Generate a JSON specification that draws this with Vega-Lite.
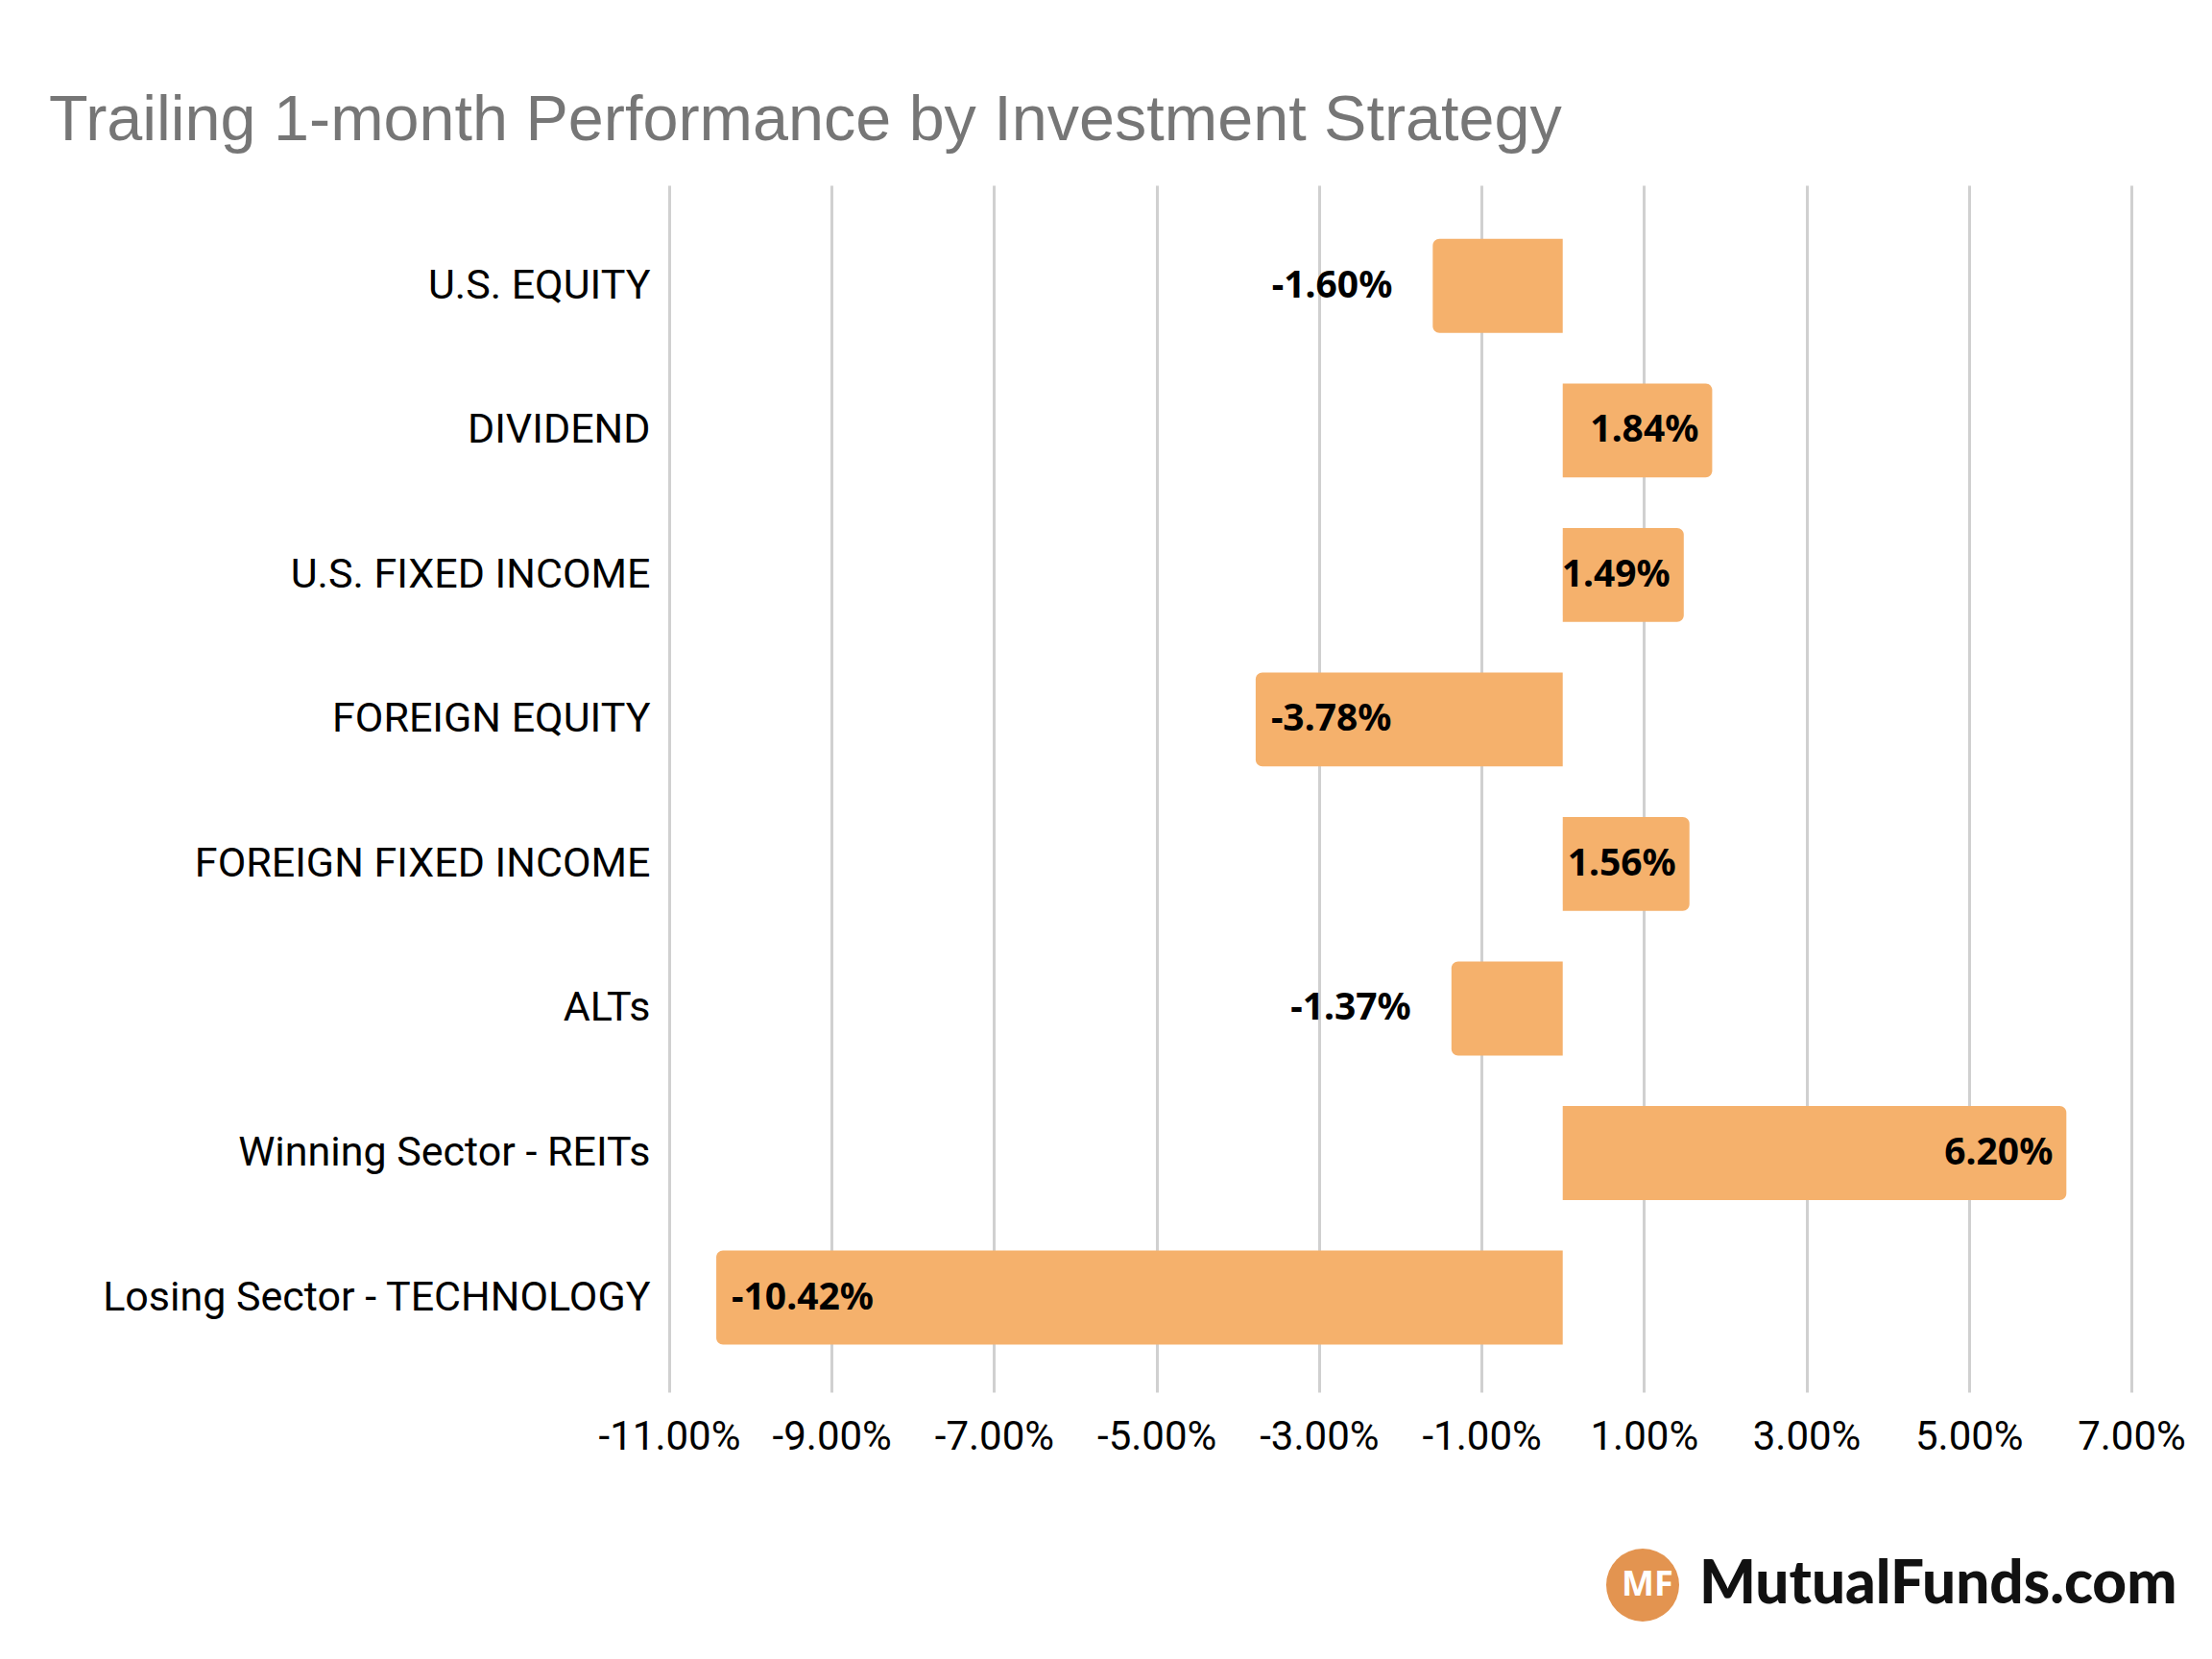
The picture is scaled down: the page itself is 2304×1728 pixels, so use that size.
{
  "$schema": "https://vega.github.io/schema/vega-lite/v6.json",
  "width": 1523,
  "height": 1257,
  "autosize": {"type": "none"},
  "padding": {"left": 697, "top": 193, "right": 84, "bottom": 278},
  "background": "white",
  "config": {
    "view": {"stroke": null},
    "locale": {"number": {"decimal": ".", "thousands": ",", "grouping": [3], "currency": ["$", ""], "minus": "-"}}
  },
  "title": {
    "text": "Trailing 1-month Performance by Investment Strategy",
    "anchor": "start",
    "frame": "group",
    "dx": -646,
    "offset": -19,
    "baseline": "alphabetic",
    "font": "Liberation Sans",
    "fontSize": 66.5,
    "fontWeight": "normal",
    "color": "#767676"
  },
  "data": {
    "values": [
      {"strategy": "U.S. EQUITY", "value": -0.016},
      {"strategy": "DIVIDEND", "value": 0.0184},
      {"strategy": "U.S. FIXED INCOME", "value": 0.0149},
      {"strategy": "FOREIGN EQUITY", "value": -0.0378},
      {"strategy": "FOREIGN FIXED INCOME", "value": 0.0156},
      {"strategy": "ALTs", "value": -0.0137},
      {"strategy": "Winning Sector - REITs", "value": 0.062},
      {"strategy": "Losing Sector - TECHNOLOGY", "value": -0.1042}
    ]
  },
  "encoding": {
    "y": {
      "field": "strategy",
      "type": "nominal",
      "sort": null,
      "scale": {
        "domain": ["U.S. EQUITY", "DIVIDEND", "U.S. FIXED INCOME", "FOREIGN EQUITY", "FOREIGN FIXED INCOME", "ALTs", "Winning Sector - REITs", "Losing Sector - TECHNOLOGY"],
        "paddingInner": 0.35,
        "paddingOuter": 0.35,
        "align": 0.53
      },
      "axis": {
        "title": null,
        "domain": false,
        "ticks": false,
        "grid": false,
        "labelFont": "Roboto",
        "labelFontSize": 43,
        "labelColor": "#000000",
        "labelPadding": 20,
        "labelLimit": 0
      }
    },
    "x": {
      "field": "value",
      "type": "quantitative",
      "scale": {"domain": [-0.11, 0.07], "nice": false, "zero": false},
      "axis": {
        "title": null,
        "values": [-0.11, -0.09, -0.07, -0.05, -0.03, -0.01, 0.01, 0.03, 0.05, 0.07],
        "format": ".2%",
        "grid": true,
        "gridColor": "#D0D0D0",
        "gridWidth": 3,
        "domain": false,
        "ticks": false,
        "labelFont": "Roboto",
        "labelFontSize": 42,
        "labelColor": "#000000",
        "labelPadding": 26,
        "labelFlush": false
      }
    }
  },
  "layer": [
    {
      "transform": [{"filter": "datum.value >= 0"}],
      "mark": {"type": "bar", "color": "#F5B16C", "cornerRadiusTopRight": 7, "cornerRadiusBottomRight": 7},
      "encoding": {"x2": {"datum": 0}}
    },
    {
      "transform": [{"filter": "datum.value < 0"}],
      "mark": {"type": "bar", "color": "#F5B16C", "cornerRadiusTopLeft": 7, "cornerRadiusBottomLeft": 7},
      "encoding": {"x2": {"datum": 0}}
    },
    {
      "mark": {"type": "rule", "strokeWidth": 0},
      "encoding": {
        "x": {"datum": 0},
        "stroke": {
          "datum": "MutualFunds.com",
          "scale": {"range": ["#E39450"]},
          "legend": {
            "orient": "none",
            "legendX": 992,
            "legendY": 1420,
            "padding": 0,
            "title": "MF",
            "titleOrient": "left",
            "titleColor": "#FFFFFF",
            "titleFont": "Noto Sans",
            "titleFontSize": 36,
            "titleFontWeight": "bold",
            "titlePadding": -70,
            "titleBaseline": "middle",
            "titleAnchor": "middle",
            "symbolType": "circle",
            "symbolSize": 5776,
            "symbolFillColor": "#E39450",
            "symbolStrokeWidth": 0,
            "symbolOpacity": 1,
            "labelFont": "Lato",
            "labelFontWeight": 900,
            "labelFontSize": 62,
            "labelColor": "#111111",
            "labelOffset": 21,
            "labelLimit": 0
          }
        }
      }
    },
    {
      "transform": [{"filter": "datum.value >= 0"}],
      "mark": {"type": "text", "align": "right", "baseline": "middle", "dx": -14, "font": "Noto Sans", "fontWeight": "bold", "fontSize": 39, "color": "#000000"},
      "encoding": {"text": {"field": "value", "type": "quantitative", "format": ".2%"}}
    },
    {
      "transform": [{"filter": "datum.value < -0.02"}],
      "mark": {"type": "text", "align": "left", "baseline": "middle", "dx": 16, "font": "Noto Sans", "fontWeight": "bold", "fontSize": 39, "color": "#000000"},
      "encoding": {"text": {"field": "value", "type": "quantitative", "format": ".2%"}}
    },
    {
      "transform": [{"filter": "datum.value < 0 && datum.value >= -0.02"}],
      "mark": {"type": "text", "align": "right", "baseline": "middle", "dx": -42, "font": "Noto Sans", "fontWeight": "bold", "fontSize": 39, "color": "#000000"},
      "encoding": {"text": {"field": "value", "type": "quantitative", "format": ".2%"}}
    }
  ]
}
